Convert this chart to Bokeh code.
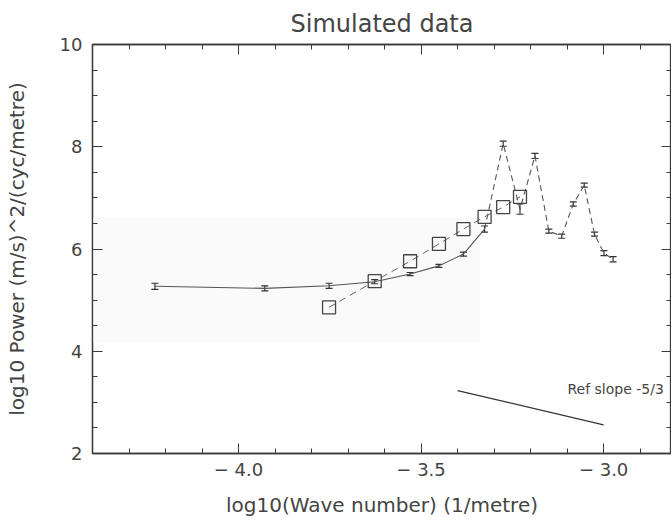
from bokeh.plotting import figure
from bokeh.models import (LinearAxis, Range1d, Whisker, ColumnDataSource, Label,
                          CustomJSTickFormatter, BoxAnnotation)
from bokeh.embed import file_html
from bokeh.resources import INLINE

# log10 wave number of each spectral estimate
wavenum = [-4.229, -3.928, -3.752, -3.627, -3.530, -3.451, -3.384, -3.326, -3.275,
           -3.229, -3.188, -3.150, -3.115, -3.083, -3.053, -3.025, -2.999, -2.974]
# log10 power of the simulated spectrum
power = [5.27, 5.23, 5.28, 5.36, 5.51, 5.67, 5.90, 6.39, 8.06,
         6.78, 7.82, 6.35, 6.25, 6.88, 7.25, 6.29, 5.92, 5.80]
# error half-width
err = [0.06, 0.05, 0.05, 0.04, 0.03, 0.03, 0.04, 0.06, 0.05,
       0.10, 0.05, 0.04, 0.04, 0.04, 0.04, 0.04, 0.05, 0.05]
# second estimate (squares)
sq_wavenum = [-3.752, -3.627, -3.530, -3.451, -3.384, -3.326, -3.275, -3.229]
sq_power = [4.86, 5.37, 5.76, 6.10, 6.39, 6.63, 6.82, 7.02]
# reference slope line -5/3
ref_x = [-3.40, -3.00]
ref_y = [3.23, 2.56]
ref_label = "Ref slope -5/3"

FONT = "DejaVu Sans"
INK = "#3a3a3a"
LINE = "#555555"

p = figure(width=672, height=529, output_backend="svg", toolbar_location=None,
           x_range=Range1d(-4.4, -2.814), y_range=Range1d(2, 10),
           min_border_left=92, min_border_right=0, min_border_top=44, min_border_bottom=76,
           title="Simulated data")
p.frame_width = 579
p.frame_height = 409
p.background_fill_color = "white"
p.border_fill_color = "white"
p.outline_line_color = INK
p.outline_line_width = 1.3
p.grid.visible = False

p.title.text_font = FONT
p.title.text_font_style = "normal"
p.title.text_font_size = "24px"
p.title.text_color = "#444444"
p.title.align = "center"
p.title.offset = 0
p.title.standoff = 13

# faint scan shading
p.add_layout(BoxAnnotation(left=-4.4, right=-3.337, bottom=4.17, top=6.61,
                           fill_color="#fafafa", fill_alpha=1.0, line_color=None,
                           level="underlay"))

def style(ax, labels=True):
    ax.axis_line_color = INK
    ax.axis_line_width = 1.3
    ax.major_tick_line_color = INK
    ax.minor_tick_line_color = INK
    ax.major_tick_in = 10
    ax.major_tick_out = 0
    ax.minor_tick_in = 5
    ax.minor_tick_out = 0
    ax.major_label_text_font = FONT
    ax.major_label_text_font_size = "18px"
    ax.major_label_text_color = "#444444"
    ax.axis_label_text_font = FONT
    ax.axis_label_text_font_style = "normal"
    ax.axis_label_text_font_size = "20px"
    ax.axis_label_text_color = "#444444"
    if not labels:
        ax.formatter = CustomJSTickFormatter(code="return '';")
        ax.major_label_standoff = 0

xfmt = CustomJSTickFormatter(code="""
    const s = Math.abs(tick).toFixed(1);
    return tick < -1e-9 ? '\u2212 ' + s : s;
""")

xa = p.xaxis[0]
xa.ticker.desired_num_ticks = 4
xa.ticker.num_minor_ticks = 5
xa.formatter = xfmt
xa.axis_label = "log10(Wave number) (1/metre)"
style(xa)
xa.major_label_standoff = 5
xa.axis_label_standoff = 10

ya = p.yaxis[0]
ya.ticker.desired_num_ticks = 5
ya.ticker.num_minor_ticks = 4
ya.axis_label = "log10 Power (m/s)^2/(cyc/metre)"
style(ya)
ya.major_label_standoff = 10
ya.axis_label_standoff = 28

top = LinearAxis()
top.ticker.desired_num_ticks = 4
top.ticker.num_minor_ticks = 5
style(top, labels=False)
p.add_layout(top, "above")

right = LinearAxis()
right.ticker.desired_num_ticks = 5
right.ticker.num_minor_ticks = 4
style(right, labels=False)
p.add_layout(right, "right")

# main spectrum: solid at low wave numbers, dashed at high
n_solid = 8
p.line(wavenum[:n_solid], power[:n_solid], line_color=LINE, line_width=1.1)
p.line(wavenum[n_solid - 1:], power[n_solid - 1:], line_color=LINE, line_width=1.1,
       line_dash="6 4")

src = ColumnDataSource(dict(x=wavenum, y=power,
                            lo=[a - b for a, b in zip(power, err)],
                            hi=[a + b for a, b in zip(power, err)]))
wh = Whisker(source=src, base="x", lower="lo", upper="hi",
             line_color="#333333", line_width=1.2)
wh.upper_head.size = 7
wh.lower_head.size = 7
wh.upper_head.line_color = "#333333"
wh.lower_head.line_color = "#333333"
wh.upper_head.line_width = 1.2
wh.lower_head.line_width = 1.2
p.add_layout(wh)

# squares series
p.line(sq_wavenum, sq_power, line_color="#666666", line_width=1.0, line_dash="7 5")
p.scatter(sq_wavenum, sq_power, marker="square", size=13, fill_color=None,
          line_color="#444444", line_width=1.3)

# reference slope
p.line(ref_x, ref_y, line_color="#333333", line_width=1.2)
p.add_layout(Label(x=-3.099, y=3.27, text=ref_label, text_font=FONT,
                   text_font_size="14px", text_color="#444444", text_baseline="middle",
                   text_align="left"))

open("out.html", "w").write(file_html(p, INLINE))
